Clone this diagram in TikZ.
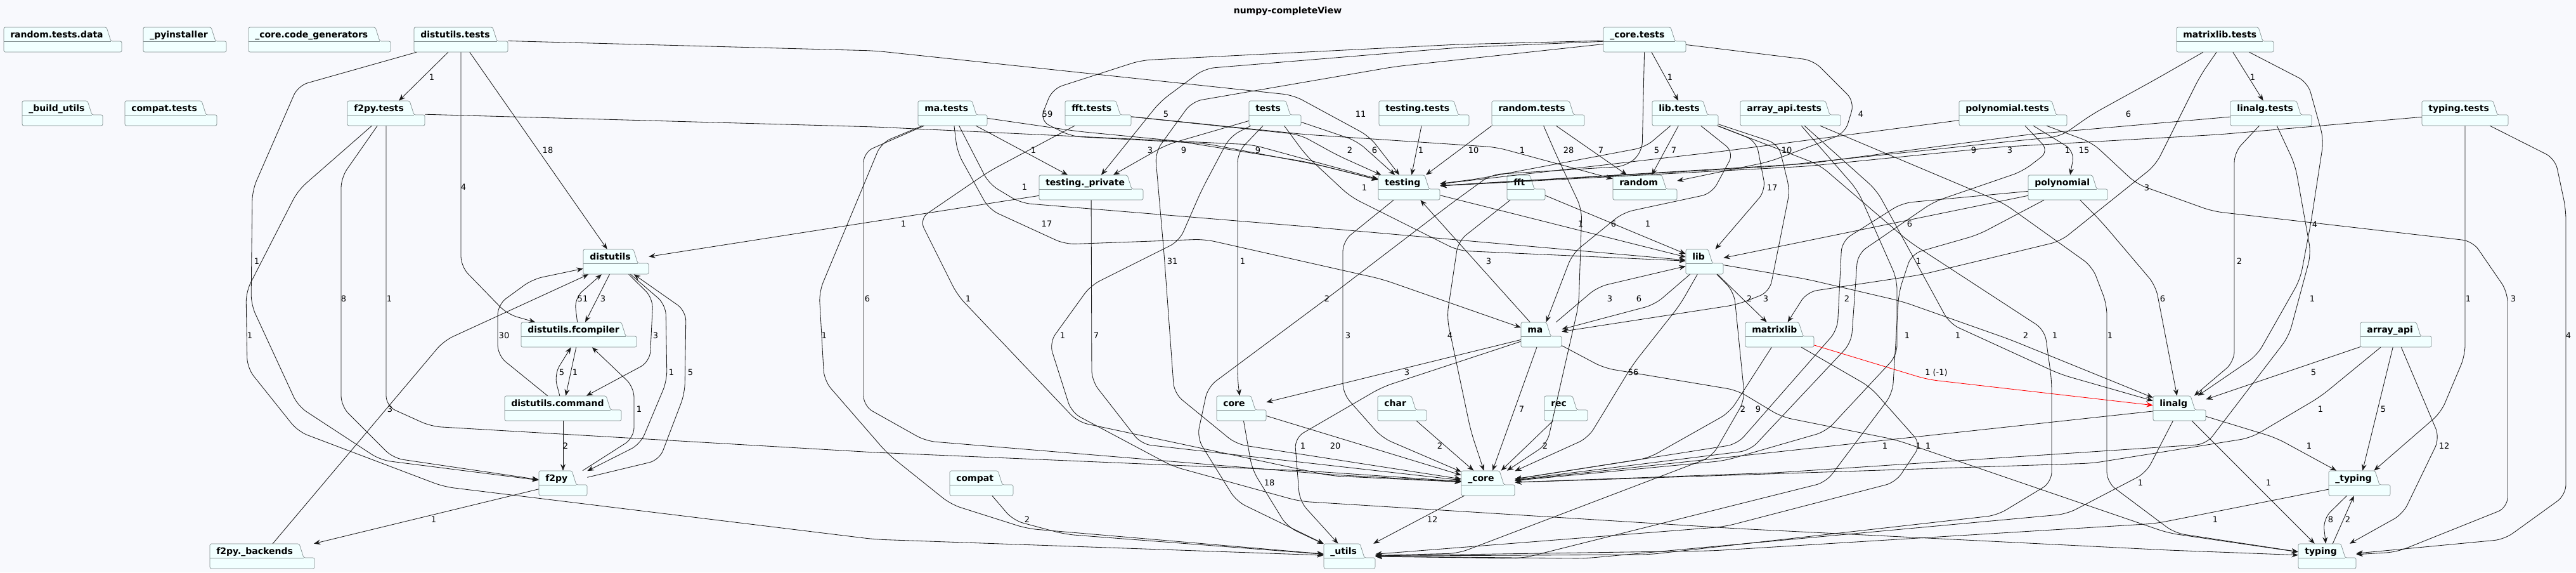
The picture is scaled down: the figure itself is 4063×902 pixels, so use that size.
\documentclass[tikz,border=0pt]{standalone}
\usepackage{fontspec}
\setmainfont{DejaVu Sans}
\usetikzlibrary{arrows.meta,fit}

\definecolor{bgcol}{HTML}{F8F9FD}
\definecolor{pkgfill}{HTML}{F1FFFF}
\definecolor{pkgborder}{HTML}{7F8C8D}
\definecolor{edgecol}{HTML}{181818}

\tikzset{
  pkgshape/.style={draw=pkgborder, fill=pkgfill, line width=0.5pt, rounded corners=0.6mm},
  pkgname/.style={font=\bfseries\fontsize{9.96}{12}\selectfont, inner sep=0pt, anchor=base west},
  pkgbox/.style={inner sep=0pt, draw=none},
  dep/.style={draw=edgecol, line width=0.6pt, rounded corners=4mm,
    -{Stealth[length=2.6mm,width=2mm,inset=0.9mm]}},
  lbl/.style={font=\fontsize{9.25}{11}\selectfont, inner sep=0pt}
}

% package: name, left, top, tab right, right, text
\newcommand\pkg[6]{%
  \draw[pkgshape] (#2,#3+39) -- (#2,#3) -- (#4-7,#3) -- (#4,#3+22) -- (#5,#3+22) -- (#5,#3+39) -- cycle;
  \draw[pkgshape] (#2,#3+22) -- (#4,#3+22);
  \node[pkgname] at (#2+10,#3+16) {#6};
  \node[pkgbox, fit={(#2,#3) (#5,#3+39)}] (#1) {};
}
\newcommand\lab[3]{\node[lbl] at (#1,#2) {#3};}

\begin{document}
\begin{tikzpicture}[x=0.25mm, y=-0.25mm]
\fill[bgcol] (0,0) rectangle (4063,902);
\useasboundingbox (0,0) rectangle (4063,902);
\node[font=\bfseries\fontsize{9.96}{12}\selectfont] (title) at (2031,18) {numpy-completeView};

% packages
\pkg{rtd}{6}{43}{175}{192}{random.tests.data}
\pkg{pyi}{226}{43}{340}{357}{\_pyinstaller}
\pkg{ccg}{392}{43}{599}{616}{\_core.code\_generators}
\pkg{dtests}{653}{43}{784}{801}{distutils.tests}
\pkg{coretests}{2529}{43}{2642}{2659}{\_core.tests}
\pkg{mtests}{3433}{43}{3569}{3586}{matrixlib.tests}
\pkg{butils}{35}{159}{145}{162}{\_build\_utils}
\pkg{compattests}{197}{159}{325}{342}{compat.tests}
\pkg{f2pytests}{548}{159}{653}{670}{f2py.tests}
\pkg{matests}{1448}{159}{1540}{1557}{ma.tests}
\pkg{ffttests}{1680}{159}{1767}{1784}{fft.tests}
\pkg{tests}{1970}{159}{2035}{2052}{tests}
\pkg{ttests}{2175}{159}{2300}{2317}{testing.tests}
\pkg{rtests}{2353}{159}{2482}{2499}{random.tests}
\pkg{libtests}{2606}{159}{2693}{2710}{lib.tests}
\pkg{aatests}{2745}{159}{2886}{2903}{array\_api.tests}
\pkg{ptests}{3090}{159}{3243}{3260}{polynomial.tests}
\pkg{latests}{3518}{159}{3629}{3646}{linalg.tests}
\pkg{tytests}{3820}{159}{3939}{3956}{typing.tests}
\pkg{tpriv}{1639}{276}{1785}{1803}{testing.\_private}
\pkg{testing}{2174}{276}{2254}{2271}{testing}
\pkg{fft}{2377}{276}{2420}{2437}{fft}
\pkg{random}{2544}{276}{2628}{2645}{random}
\pkg{poly}{3199}{276}{3307}{3324}{polynomial}
\pkg{distutils}{920}{393}{1006}{1023}{distutils}
\pkg{lib}{2659}{393}{2701}{2718}{lib}
\pkg{fcomp}{822}{508}{987}{1004}{distutils.fcompiler}
\pkg{ma}{2399}{508}{2446}{2463}{ma}
\pkg{matrixlib}{2753}{508}{2844}{2861}{matrixlib}
\pkg{arrayapi}{3723}{508}{3818}{3835}{array\_api}
\pkg{command}{796}{624}{963}{980}{distutils.command}
\pkg{core}{1919}{624}{1980}{1997}{core}
\pkg{char}{2173}{624}{2233}{2250}{char}
\pkg{rec}{2436}{624}{2487}{2504}{rec}
\pkg{linalg}{3396}{624}{3462}{3479}{linalg}
\pkg{f2py}{850}{742}{909}{926}{f2py}
\pkg{compat}{1498}{742}{1581}{1598}{compat}
\pkg{ucore}{2305}{742}{2372}{2389}{\_core}
\pkg{utyping}{3673}{742}{3753}{3770}{\_typing}
\pkg{backends}{331}{857}{479}{496}{f2py.\_backends}
\pkg{utils}{2088}{857}{2152}{2169}{\_utils}
\pkg{typing}{3625}{857}{3699}{3716}{typing}

% distutils / f2py
\draw[dep] (dtests) -- (f2pytests); \lab{681}{122}{1}
\draw[dep] (dtests) -- (distutils); \lab{864}{237}{18}
\draw[dep] (dtests) -- (727,420) -- (800,495) -- (fcomp); \lab{731}{295}{4}
\draw[dep] (dtests) -- (470,135) -- (398,300) -- (396,480) -- (470,640) -- (600,725) -- (f2py); \lab{405}{412}{1}
\draw[dep] (f2pytests) -- (538,280) -- (538,640) -- (620,722) -- (f2py); \lab{542}{471}{8}
\draw[dep] (f2pytests) -- (609,640) -- (680,672) -- (1380,713) -- (2060,742) -- (ucore); \lab{614}{471}{1}
\draw[dep] (f2pytests) -- (470,300) -- (388,460) -- (390,580) -- (470,680) -- (700,767) -- (1380,850) -- (utils); \lab{394}{529}{1}
\draw[dep] (f2pytests) -- (1380,200) -- (1975,228) -- (testing); \lab{1984}{237}{9}
\draw[dep] (backends) -- (700,537) -- (distutils); \lab{615}{645}{3}
\draw[dep] (f2py) -- (backends); \lab{684}{819}{1}
\draw[dep] (fcomp) -- (906,470) -- (distutils); \lab{919}{471}{51}
\draw[dep] (distutils) -- (fcomp); \lab{951}{471}{3}
\draw[dep] (command) -- (785,560) -- (785,480) -- (840,440) -- (distutils); \lab{795}{529}{30}
\draw[dep] (distutils) -- (1030,470) -- (1025,570) -- (command); \lab{1034}{529}{3}
\draw[dep] (command) -- (874,590) -- (fcomp); \lab{886}{587}{5}
\draw[dep] (fcomp) -- (command); \lab{907}{587}{1}
\draw[dep] (f2py) -- (1000,690) -- (1000,610) -- (fcomp); \lab{1008}{645}{1}
\draw[dep] (distutils) -- (1050,480) -- (1052,600) -- (1010,700) -- (f2py); \lab{1059}{587}{1}
\draw[dep] (f2py) -- (1040,725) -- (1080,620) -- (1082,490) -- (distutils); \lab{1089}{587}{5}
\draw[dep] (command) -- (f2py); \lab{892}{703}{2}
\draw[dep] (compat) -- (1598,820) -- (1680,842) -- (utils); \lab{1620}{819}{2}
\draw[dep] (tpriv) -- (distutils); \lab{1425}{353}{1}

% middle
\draw[dep] (matests) -- (tpriv); \lab{1630}{237}{1}
\draw[dep] (coretests) -- (2300,70) -- (1800,95) -- (1660,140) -- (1640,190) -- (1690,215) -- (1900,226) -- (2080,260) -- (testing); \lab{1652}{180}{59}
\draw[dep] (coretests) -- (2300,75) -- (1900,108) -- (1830,160) -- (tpriv); \lab{1839}{180}{5}
\draw[dep] (tests) -- (1840,228) -- (tpriv); \lab{1814}{237}{3}
\draw[dep] (matests) -- (1700,207) -- (1855,222) -- (2060,255) -- (testing); \lab{1867}{237}{9}
\draw[dep] (ffttests) -- (2050,212) -- (2110,245) -- (testing); \lab{2129}{237}{2}
\draw[dep] (tests) -- (2140,222) -- (testing); \lab{2168}{237}{6}
\draw[dep] (dtests) -- (1380,80) -- (2040,150) -- (2160,215) -- (testing); \lab{2146}{180}{11}
\draw[dep] (ttests) -- (testing); \lab{2241}{237}{1}
\draw[dep] (rtests.south west) -- (testing); \lab{2324}{237}{10}
\draw[dep] (ffttests) -- (2060,212) -- (2360,232) -- (random); \lab{2401}{237}{1}
\draw[dep] (rtests) -- (random); \lab{2525}{237}{7}
\draw[dep] (libtests) -- (random); \lab{2640}{237}{7}
\draw[dep] (rtests) -- (2455,245) -- (2495,330) -- (2490,480) -- (2440,700) -- (ucore); \lab{2474}{237}{28}
\draw[dep] (matests) -- (1362,240) -- (1362,640) -- (1460,695) -- (2100,748) -- (ucore); \lab{1368}{471}{6}
\draw[dep] (matests) -- (1390,225) -- (1292,460) -- (1300,600) -- (1400,715) -- (1500,795) -- (1620,833) -- (utils); \lab{1300}{529}{1}
\draw[dep] (matests) -- (1510,240) -- (1560,330) -- (1680,385) -- (1900,377) -- (2180,440) -- (ma); \lab{1651}{353}{17}
\draw[dep] (matests) -- (1560,290) -- (1610,320) -- (2060,357) -- (lib); \lab{1616}{295}{1}
\draw[dep] (ffttests) -- (1560,270) -- (1450,345) -- (1510,465) -- (1700,665) -- (2100,750) -- (ucore); \lab{1527}{471}{1}
\draw[dep] (tpriv) -- (1722,600) -- (1800,700) -- (ucore); \lab{1729}{529}{7}
\draw[dep] (coretests) -- (2200,105) -- (1880,160) -- (1822,240) -- (1836,400) -- (1852,620) -- (1950,700) -- (ucore); \lab{1849}{412}{31}
\draw[dep] (tests) -- (1952,240) -- (1952,600) -- (core); \lab{1960}{412}{1}
\draw[dep] (tests) -- (1940,215) -- (1895,300) -- (1860,380) -- (1720,450) -- (1655,540) -- (1690,650) -- (1850,735) -- (2050,790) -- (2740,833) -- (3420,867) -- (typing); \lab{1676}{529}{1}
\draw[dep] (tests) -- (2060,245) -- (2130,310) -- (2300,395) -- (lib); \lab{2152}{296}{1}
\draw[dep] (core) -- (ucore); \lab{2106}{703}{20}
\draw[dep] (core) -- (1975,740) -- (2030,830) -- (utils); \lab{2002}{761}{18}
\draw[dep] (ma) -- (2180,610) -- (2042,690) -- (2050,790) -- (utils); \lab{2055}{703}{1}
\draw[dep] (ma) -- (core); \lab{2219}{587}{3}
\draw[dep] (ma) -- (ucore); \lab{2400}{645}{7}
\draw[dep] (ma) -- (testing); \lab{2348}{412}{3}
\draw[dep] (testing) -- (2118,380) -- (2118,620) -- (2180,690) -- (ucore); \lab{2126}{529}{3}
\draw[dep] (fft) -- (2300,380) -- (2282,500) -- (2320,680) -- (ucore); \lab{2287}{529}{4}
\draw[dep] (fft) -- (lib); \lab{2599}{353}{1}
\draw[dep] (testing) -- (lib); \lab{2493}{353}{1}
\draw[dep] (char) -- (ucore); \lab{2271}{703}{2}
\draw[dep] (rec) -- (ucore); \lab{2437}{703}{2}
\draw[dep] (ucore) -- (utils); \lab{2259}{819}{12}
\draw[dep] (coretests) -- (2590,240) -- (2565,262) -- (2352,275) -- (2290,320) -- (2100,465) -- (1905,610) -- (1888,690) -- (1950,790) -- (utils); \lab{2093}{471}{2}
\draw[dep] (coretests) -- (libtests); \lab{2634}{122}{1}
\draw[dep] (coretests) -- (2860,95) -- (2925,160) -- (2910,210) -- (2790,255) -- (random); \lab{2935}{180}{4}

% lib, ma, matrixlib
\draw[dep] (ma) -- (2520,452) -- (lib); \lab{2539}{471}{3}
\draw[dep] (lib) -- (2610,480) -- (ma); \lab{2585}{471}{6}
\draw[dep] (lib) -- (2650,480) -- (2575,575) -- (2505,690) -- (ucore); \lab{2576}{587}{56}
\draw[dep] (libtests) -- (2735,240) -- (2700,305) -- (2560,335) -- (2480,400) -- (ma); \lab{2545}{353}{6}
\draw[dep] (libtests) -- (2770,222) -- (2785,300) -- (lib); \lab{2795}{296}{17}
\draw[dep] (libtests) -- (2595,232) -- (2330,282) -- (testing); \lab{2613}{237}{5}
\draw[dep] (lib) -- (matrixlib); \lab{2759}{471}{2}
\draw[dep] (libtests) -- (2805,227) -- (2823,300) -- (2791,460) -- (2740,480) -- (ma); \lab{2785}{471}{3}
\draw[dep] (ptests) -- (2720,238) -- (testing); \lab{2818}{237}{10}
\draw[dep] (lib) -- (2735,460) -- (2752,630) -- (2700,720) -- (2300,872) -- (utils); \lab{2773}{645}{9}
\draw[dep] (matrixlib) -- (2728,650) -- (2600,722) -- (ucore); \lab{2749}{645}{2}
\draw[dep] (poly) -- (3000,320) -- (2905,380) -- (2898,520) -- (2740,700) -- (ucore); \lab{2913}{471}{2}
\draw[dep] (ptests) -- (3232,238) -- (3190,270) -- (3050,318) -- (2930,400) -- (2920,540) -- (2760,710) -- (ucore); \lab{3261}{237}{1}
\draw[dep] (ptests) -- (3272,238) -- (poly); \lab{3287}{237}{15}
\draw[dep] (poly) -- (lib); \lab{3012}{353}{6}
\draw[dep] (poly) -- (3315,350) -- (3400,450) -- (linalg); \lab{3411}{471}{6}
\draw[dep] (poly) -- (3120,370) -- (3015,400) -- (2995,460) -- (2985,620) -- (2880,760) -- (2400,880) -- (utils); \lab{3026}{412}{1}

% right part
\draw[dep] (mtests) -- (latests); \lab{3553}{122}{1}
\draw[dep] (mtests) -- (3400,125) -- (3300,180) -- (3250,215) -- (3150,225) -- (2800,262) -- (testing); \lab{3357}{180}{6}
\draw[dep] (mtests) -- (3640,130) -- (3665,220) -- (3645,350) -- (3628,440) -- (3560,560) -- (linalg); \lab{3651}{354}{4}
\draw[dep] (mtests) -- (3470,120) -- (3400,260) -- (3250,380) -- (3030,433) -- (2850,460) -- (matrixlib); \lab{3386}{296}{3}
\draw[dep] (latests) -- (3524,240) -- (3524,570) -- (linalg); \lab{3532}{412}{2}
\draw[dep] (latests) -- (3620,260) -- (3645,400) -- (3610,530) -- (3480,700) -- (2800,745) -- (ucore); \lab{3647}{471}{1}
\draw[dep] (latests) -- (3200,212) -- (2850,258) -- (testing); \lab{3113}{237}{9}
\draw[dep] (tytests) -- (3500,212) -- (3150,232) -- (2850,262) -- (testing); \lab{3170}{237}{3}
\draw[dep] (tytests) -- (3888,560) -- (3850,650) -- (utyping); \lab{3893}{471}{1}
\draw[dep] (tytests) -- (4030,250) -- (4047,330) -- (4047,780) -- (3950,850) -- (typing); \lab{4051}{529}{4}
\draw[dep] (ptests) -- (3300,225) -- (3370,290) -- (3490,333) -- (3700,357) -- (3900,380) -- (3955,460) -- (3955,800) -- (3780,870) -- (typing); \lab{3964}{471}{3}
\draw[dep] (arrayapi) -- (linalg); \lab{3649}{587}{5}
\draw[dep] (arrayapi) -- (3660,625) -- (3550,690) -- (3300,730) -- (ucore); \lab{3660}{645}{1}
\draw[dep] (arrayapi) -- (utyping); \lab{3759}{645}{5}
\draw[dep] (arrayapi) -- (3848,690) -- (3790,810) -- (typing); \lab{3855}{703}{12}
\draw[dep] (linalg) -- (3590,690) -- (utyping); \lab{3642}{703}{1}
\draw[dep] (linalg) -- (typing); \lab{3578}{761}{1}
\draw[dep] (utyping) -- (3400,825) -- (2700,868) -- (utils); \lab{3494}{819}{1}
\draw[dep] (utyping) -- (3664,818) -- (typing); \lab{3676}{819}{8}
\draw[dep] (typing) -- (utyping); \lab{3703}{819}{2}
\draw[dep] (linalg) -- (3385,745) -- (3260,810) -- (2500,880) -- (utils); \lab{3376}{761}{1}
\draw[dep] (linalg) -- (ucore); \lab{3026}{703}{1}
\draw[dep] (matrixlib) -- (2950,610) -- (3030,700) -- (2990,760) -- (2720,830) -- (utils); \lab{3041}{703}{1}
\draw[dep, draw=red] (matrixlib) -- (3040,598) -- (linalg); \lab{3054}{587}{1 (-1)}
\draw[dep] (ma) -- (2530,580) -- (2740,615) -- (2810,657) -- (2990,693) -- (3420,840) -- (typing); \lab{2973}{703}{1}
\draw[dep] (lib) -- (2850,440) -- (3000,475) -- (3170,535) -- (linalg); \lab{3195}{529}{2}
\draw[dep] (aatests) -- (2960,300) -- (3075,510) -- (3250,590) -- (linalg); \lab{3088}{529}{1}
\draw[dep] (aatests) -- (2930,300) -- (2992,440) -- (2992,560) -- (2880,680) -- (2720,726) -- (ucore); \lab{3008}{529}{1}
\draw[dep] (aatests) -- (3160,320) -- (3300,420) -- (3323,480) -- (3323,760) -- (3430,840) -- (typing); \lab{3328}{529}{1}
\draw[dep] (libtests) -- (2870,260) -- (3010,380) -- (3225,520) -- (3236,600) -- (3236,760) -- (3150,812) -- (2600,874) -- (utils); \lab{3241}{529}{1}
\end{tikzpicture}
\end{document}
